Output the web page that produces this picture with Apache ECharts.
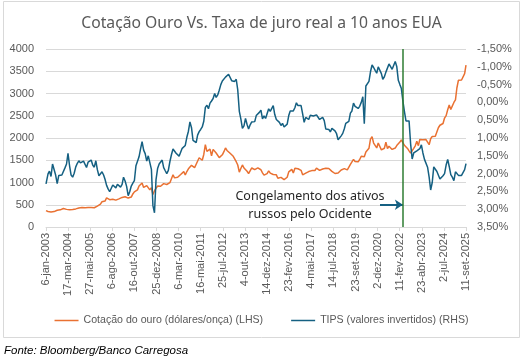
<!DOCTYPE html>
<html>
<head>
<meta charset="utf-8">
<script src="https://cdn.jsdelivr.net/npm/echarts@6.0.0/dist/echarts.min.js"></script>
<style>html,body{margin:0;padding:0;background:#fff}#c{width:523px;height:364px}</style>
</head>
<body>
<div id="c"></div>
<script>
// ---- data (monthly readings, Jan 2003 .. Sep 2025) ----
const firstDay = '2003-01-06';
const lastDay = '2025-09-11';
const startYear = 2003;
const monthNames = ['jan','fev','mar','abr','mai','jun','jul','ago','set','out','nov','dez'];

// Gold price, USD/oz (LHS)
const gold = [
  368,348,334,336,361,346,354,375,388,386,398,416,
  400,396,424,388,393,394,391,407,416,426,453,438,
  422,435,427,436,418,437,430,433,473,470,495,513,
  569,556,582,654,643,613,633,624,599,604,646,632,
  650,665,662,680,659,650,666,673,743,789,783,834,
  923,950,990,890,885,930,918,834,884,730,815,870,
  919,942,916,883,975,934,955,949,996,1040,1175,1104,
  1081,1119,1113,1180,1207,1244,1169,1246,1307,1346,1386,1405,
  1333,1411,1439,1556,1536,1500,1630,1850,1700,1720,1750,1600,
  1744,1711,1662,1651,1558,1598,1622,1692,1776,1720,1726,1657,
  1664,1588,1598,1467,1394,1234,1314,1394,1326,1324,1253,1202,
  1244,1326,1284,1288,1250,1327,1285,1287,1217,1164,1182,1199,
  1260,1212,1183,1180,1190,1172,1095,1135,1115,1142,1065,1061,
  1118,1238,1233,1294,1214,1322,1351,1309,1316,1273,1173,1146,
  1211,1250,1246,1266,1267,1242,1269,1322,1284,1271,1275,1303,
  1345,1318,1325,1316,1299,1251,1224,1202,1191,1215,1222,1282,
  1321,1313,1292,1284,1306,1409,1427,1520,1472,1513,1464,1517,
  1589,1585,1577,1686,1730,1768,1975,2030,1887,1879,1777,1888,
  1863,1734,1708,1769,1906,1763,1814,1814,1743,1783,1774,1829,
  1796,1909,1960,1897,1837,1807,1766,1711,1660,1633,1768,1824,
  1928,1827,1969,1990,1962,1919,1965,1940,1849,1983,2036,2063,
  2040,2044,2230,2286,2327,2326,2448,2503,2634,2744,2643,2625,
  2798,2858,3124,3300,3289,3303,3290,3448,3640
];

// 10y TIPS real yield, % (RHS, inverted)
const tips = [
  2.29,2.01,1.93,2.08,1.73,1.71,2.04,2.28,2.05,2.03,2.04,1.99,
  1.84,1.73,1.43,1.78,2.04,2.10,1.99,1.81,1.71,1.64,1.70,1.69,
  1.65,1.61,1.83,1.68,1.65,1.62,1.76,1.82,1.64,1.89,2.06,2.02,
  1.95,2.04,2.16,2.33,2.43,2.51,2.49,2.32,2.32,2.40,2.30,2.28,
  2.38,2.30,2.10,2.21,2.36,2.62,2.51,2.35,2.27,2.20,1.78,1.80,
  1.53,1.30,1.10,1.34,1.44,1.65,1.50,1.55,1.88,2.90,3.10,2.17,
  1.86,1.73,1.77,1.62,1.83,1.92,2.00,1.91,1.66,1.47,1.31,1.36,
  1.43,1.48,1.51,1.46,1.29,1.25,1.21,0.98,0.81,0.55,0.71,1.07,
  1.08,1.13,0.92,0.82,0.76,0.69,0.53,0.14,0.08,0.18,0.02,-0.04,
  -0.11,-0.25,-0.14,-0.21,-0.34,-0.50,-0.60,-0.59,-0.71,-0.75,-0.79,-0.75,
  -0.61,-0.58,-0.59,-0.65,-0.35,0.25,0.46,0.73,0.66,0.45,0.62,0.75,
  0.63,0.55,0.56,0.54,0.37,0.37,0.28,0.22,0.46,0.38,0.45,0.48,
  0.18,0.25,0.24,0.09,0.34,0.48,0.50,0.56,0.65,0.59,0.69,0.73,
  0.61,0.37,0.24,0.21,0.24,0.15,0.01,0.09,0.06,0.09,0.32,0.56,
  0.42,0.37,0.48,0.36,0.37,0.38,0.43,0.35,0.33,0.48,0.48,0.42,
  0.51,0.75,0.75,0.76,0.83,0.73,0.77,0.80,0.88,1.05,1.10,0.94,
  0.87,0.74,0.59,0.58,0.53,0.30,0.24,0.02,0.11,0.13,0.17,0.11,
  0.00,-0.16,0.60,-0.46,-0.46,-0.59,-0.86,-1.05,-0.98,-0.90,-0.82,-1.00,
  -1.00,-0.81,-0.65,-0.72,-0.85,-0.83,-1.08,-1.06,-0.93,-0.93,-1.15,-1.01,
  -0.62,-0.50,-0.40,-0.04,0.25,0.52,0.48,0.52,1.17,1.59,1.42,1.39,
  1.36,1.40,1.30,1.19,1.42,1.60,1.58,1.82,2.10,2.46,2.25,1.81,
  1.83,1.94,1.95,2.15,2.16,2.06,2.00,1.76,1.60,1.80,2.03,2.10,
  2.20,1.95,1.90,2.05,2.10,2.05,2.00,1.89,1.72
];

// axis / annotation settings
const leftTicks = {min: 0, max: 4000, step: 500};
const rightTicks = {min: -1.5, max: 3.5, step: 0.5};
const labelStepDays = 436;
const freezeDate = '2022-04-15';
const arrowStartDate = '2021-01-19';
const arrowLevel = 500;

// ---- helpers ----
const DAY = 86400000;
function utc(s){ const p = s.split('-').map(Number); return Date.UTC(p[0], p[1]-1, p[2]); }
const T0 = utc(firstDay);
const dayOf = s => Math.round((utc(s) - T0) / DAY);
const spanDays = dayOf(lastDay);
function monthDate(i){
  if (i === 0) return firstDay;
  if (i === gold.length - 1) return lastDay;
  const y = startYear + Math.floor(i / 12), m = i % 12 + 1;
  return y + '-' + (m < 10 ? '0' + m : m) + '-15';
}
const goldData = gold.map((v, i) => [dayOf(monthDate(i)), v]);
const tipsData = tips.map((v, i) => [dayOf(monthDate(i)), v]);
function fmtDay(v){
  const d = new Date(T0 + v * DAY);
  return d.getUTCDate() + '-' + monthNames[d.getUTCMonth()] + '-' + d.getUTCFullYear();
}

const ORANGE = '#E97132', BLUE = '#156082', GRID = '#d9d9d9', TXT = '#595959';
const axisFont = 'Liberation Sans, Arial, sans-serif';

const chart = echarts.init(document.getElementById('c'), null, {renderer: 'canvas'});
chart.setOption({
  animation: false,
  backgroundColor: '#fff',
  title: {
    text: 'Cotação Ouro Vs. Taxa de juro real a 10 anos EUA',
    left: 'center', top: 11,
    textStyle: {fontFamily: 'Noto Sans, sans-serif', fontSize: 15.7, fontWeight: 'normal', color: TXT}
  },
  legend: {
    left: 'center', top: 310, itemWidth: 24, itemHeight: 1.5, itemGap: 28, icon: 'rect',
    textStyle: {fontFamily: 'Liberation Sans, sans-serif', fontSize: 10.6, color: TXT},
    data: ['Cotação do ouro (dólares/onça) (LHS)', 'TIPS (valores invertidos) (RHS)']
  },
  grid: {left: 46, right: 57, top: 49, bottom: 137, containLabel: false},
  xAxis: {
    type: 'value', min: 0, max: spanDays, interval: labelStepDays,
    axisLine: {show: true, lineStyle: {color: GRID}},
    axisTick: {show: true, length: 4, lineStyle: {color: GRID}},
    splitLine: {show: false},
    axisLabel: {rotate: 90, margin: 6, fontSize: 11, color: TXT, fontFamily: axisFont, formatter: fmtDay, showMaxLabel: true, showMinLabel: true}
  },
  yAxis: [
    {
      type: 'value', min: leftTicks.min, max: leftTicks.max, interval: leftTicks.step,
      axisLine: {show: false}, axisTick: {show: false},
      splitLine: {lineStyle: {color: GRID, width: 1}},
      axisLabel: {margin: 12, fontSize: 11, color: TXT, fontFamily: axisFont, formatter: v => String(v)}
    },
    {
      type: 'value', min: rightTicks.min, max: rightTicks.max, interval: rightTicks.step, inverse: true,
      axisLine: {show: false}, axisTick: {show: false}, splitLine: {show: false},
      axisLabel: {margin: 11, fontSize: 11, color: TXT, fontFamily: axisFont,
        formatter: v => v.toFixed(2).replace('.', ',') + '%'}
    }
  ],
  series: [
    {
      name: 'Cotação do ouro (dólares/onça) (LHS)', type: 'line', yAxisIndex: 0,
      data: goldData, showSymbol: false, symbol: 'none',
      lineStyle: {color: ORANGE, width: 1.5}, itemStyle: {color: ORANGE},
      markLine: {
        silent: true, symbol: ['none', 'arrow'], symbolSize: [8, 8], label: {show: false},
        lineStyle: {color: BLUE, width: 2, type: 'solid'},
        data: [[{coord: [dayOf(arrowStartDate), arrowLevel]}, {coord: [dayOf(freezeDate), arrowLevel]}]]
      }
    },
    {
      name: 'TIPS (valores invertidos) (RHS)', type: 'line', yAxisIndex: 1,
      data: tipsData, showSymbol: false, symbol: 'none',
      lineStyle: {color: BLUE, width: 1.5}, itemStyle: {color: BLUE},
      markLine: {
        silent: true, symbol: ['none', 'none'], label: {show: false},
        lineStyle: {color: '#2e7d32', width: 1.5, type: 'solid'},
        data: [{xAxis: dayOf(freezeDate)}]
      }
    }
  ],
  graphic: [
    {type: 'rect', shape: {x: 3.5, y: 1.5, width: 516, height: 336}, style: {fill: 'none', stroke: GRID, lineWidth: 1}, silent: true, z: -1},
    {type: 'text', x: 310, y: 196, style: {text: 'Congelamento dos ativos', align: 'center', verticalAlign: 'middle', fontFamily: 'Noto Sans, sans-serif', fontSize: 12.5, fill: '#262626'}},
    {type: 'text', x: 310, y: 214, style: {text: 'russos pelo Ocidente', align: 'center', verticalAlign: 'middle', fontFamily: 'Noto Sans, sans-serif', fontSize: 12.5, fill: '#262626'}},
    {type: 'text', x: 4, y: 351, style: {text: 'Fonte: Bloomberg/Banco Carregosa', align: 'left', verticalAlign: 'middle', fontFamily: 'Liberation Sans, sans-serif', fontStyle: 'italic', fontSize: 11.5, fill: '#000'}}
  ]
});
</script>
</body>
</html>
